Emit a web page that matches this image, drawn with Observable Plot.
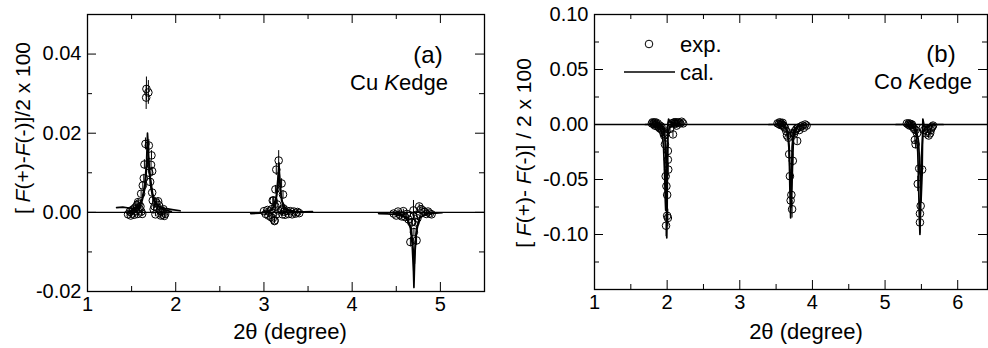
<!DOCTYPE html>
<html><head><meta charset="utf-8">
<script src="https://cdn.jsdelivr.net/npm/d3@7"></script>
<script src="https://cdn.jsdelivr.net/npm/@observablehq/plot@0.6"></script>
<style>
body{margin:0;background:#fff;}
#wrap{position:relative;width:988px;height:348px;overflow:hidden;font-family:"Liberation Sans",Arial,sans-serif;color:#000;background:#fff;}
.panel{position:absolute;top:0;}
.lbl{position:absolute;white-space:nowrap;font-size:20px;line-height:1;}
.rot{transform:translate(-50%,-50%) rotate(-90deg);}
.ctr{transform:translate(-50%,-50%);}
.lft{transform:translateY(-50%);}
</style></head><body><div id="wrap"></div>
<script>
// ---------- Panel (a): Cu K edge ----------
const aXTicks = [1, 2, 3, 4, 5];
const aXMinor = [1.5, 2.5, 3.5, 4.5];
const aYTicks = [-0.02, 0.00, 0.02, 0.04];
const aYMinor = [-0.01, 0.01, 0.03, 0.05];
const aExpX = [1.46,1.48,1.49,1.50,1.51,1.52,1.53,1.54,1.55,1.56,1.57,1.58,1.59,1.60,1.61,1.62,
  1.574,1.608,1.627,1.638,1.645,1.657,1.668,1.665,1.69,1.695,1.70,1.71,1.72,1.725,1.733,1.733,1.74,
  1.75,1.76,1.77,1.78,1.79,1.80,1.81,1.82,1.83,1.84,1.85,1.86,1.87,1.88,
  3.00,3.02,3.04,3.05,3.06,3.08,3.09,3.10,3.11,3.12,3.13,3.14,3.15,3.16,3.20,3.21,3.22,3.23,3.24,3.26,3.28,3.30,3.32,3.34,3.36,3.38,3.40,
  3.167,3.14,3.20,3.13,3.216,3.10,3.12,
  4.47,4.50,4.52,4.54,4.56,4.58,4.60,4.62,4.64,4.66,4.68,4.72,4.74,4.76,4.78,4.80,4.82,4.84,4.86,4.88,4.90,
  4.695,4.66,4.73,4.70,4.67,4.73];
const aExpY = [-0.0005,0.0002,-0.0008,0.0005,-0.0003,0.0008,-0.0006,0.0012,0.0003,0.0018,-0.0004,0.0022,0.0009,0.0015,0.0002,-0.0004,
  0.0026,0.0047,0.0068,0.0086,0.0121,0.0173,0.0312,0.0290,0.0303,0.0169,0.0100,0.0077,0.0120,0.0144,0.0104,0.0050,0.0030,
  0.0008,0.0015,-0.0005,0.0025,0.0012,0.0028,0.0018,0.0005,-0.0008,0.0002,-0.0006,0.0008,-0.0009,-0.0004,
  0.0003,-0.0004,0.0006,-0.0008,0.0002,-0.0012,0.0008,-0.0015,0.0030,-0.0022,0.0015,-0.0005,0.0020,0.0005,0.0005,-0.0005,0.0010,0.0002,-0.0006,0.0004,-0.0004,0.0003,-0.0005,0.0002,-0.0003,0.0001,-0.0002,
  0.0131,0.0108,0.0073,0.0058,0.0045,0.0030,-0.0020,
  -0.0003,-0.0008,0.0002,-0.0006,-0.0010,0.0003,-0.0012,-0.0004,-0.0018,-0.0008,-0.0025,-0.0025,-0.0015,0.0015,0.0008,0.0005,0.0001,-0.0004,0.0002,-0.0003,-0.0005,
  0.0005,-0.0075,-0.0071,-0.0050,-0.0025,-0.0006];
const aExpErr = [0.0006,0.0006,0.0006,0.0006,0.0006,0.0006,0.0006,0.0006,0.0006,0.0007,0.0006,0.0007,0.0006,0.0007,0.0006,0.0006,
  0.0008,0.0009,0.0010,0.0010,0.0012,0.0015,0.0030,0.0030,0.0030,0.0015,0.0012,0.0010,0.0012,0.0012,0.0010,0.0009,0.0008,
  0.0006,0.0006,0.0006,0.0007,0.0006,0.0007,0.0006,0.0006,0.0006,0.0006,0.0006,0.0006,0.0006,0.0006,
  0.0005,0.0005,0.0005,0.0005,0.0005,0.0005,0.0005,0.0006,0.0008,0.0006,0.0006,0.0006,0.0007,0.0006,0.0006,0.0005,0.0006,0.0005,0.0005,0.0005,0.0005,0.0005,0.0005,0.0005,0.0005,0.0005,0.0005,
  0.0025,0.0015,0.0012,0.0010,0.0010,0.0008,0.0008,
  0.0005,0.0005,0.0005,0.0005,0.0005,0.0005,0.0006,0.0005,0.0006,0.0005,0.0007,0.0007,0.0006,0.0006,0.0006,0.0005,0.0005,0.0005,0.0005,0.0005,0.0005,
  0.0025,0.0012,0.0012,0.0010,0.0008,0.0008];
const aCalX = [1.33,1.40,1.47,1.53,1.58,1.62,1.65,1.67,1.68,1.69,1.70,1.72,1.75,1.80,1.88,1.96,2.05,
  1.45,1.52,1.58,1.62,1.65,1.675,1.69,1.71,1.74,1.78,1.85,1.95,
  2.85,2.95,3.05,3.10,3.14,3.16,3.17,3.18,3.20,3.25,3.35,3.45,3.55,
  3.00,3.08,3.13,3.155,3.17,3.19,3.22,3.30,3.40,
  4.30,4.40,4.50,4.58,4.63,4.66,4.68,4.695,4.70,4.71,4.73,4.77,4.85,4.95,5.02,
  4.45,4.55,4.62,4.67,4.69,4.705,4.72,4.76,4.85];
const aCalY = [0.0012,0.0013,0.0011,0.0010,0.0015,0.0035,0.0070,0.0130,0.0200,0.0160,0.0110,0.0060,0.0030,0.0015,0.0010,0.0007,0.0004,
  0.0000,0.0005,0.0012,0.0030,0.0060,0.0125,0.0140,0.0090,0.0045,0.0020,0.0008,0.0002,
  -0.0003,-0.0002,0.0001,0.0010,0.0040,0.0090,0.0125,0.0080,0.0030,0.0008,0.0002,0.0001,0.0002,
  0.0000,0.0005,0.0020,0.0060,0.0105,0.0050,0.0010,0.0002,0.0000,
  -0.0003,-0.0004,-0.0006,-0.0010,-0.0020,-0.0040,-0.0080,-0.0150,-0.0190,-0.0110,-0.0040,-0.0012,-0.0004,-0.0002,-0.0001,
  0.0000,-0.0005,-0.0015,-0.0040,-0.0090,-0.0130,-0.0060,-0.0015,-0.0002];
const aCalId = [...Array(17).fill(0),...Array(12).fill(1),...Array(13).fill(2),...Array(9).fill(3),...Array(15).fill(4),...Array(9).fill(5)];

// ---------- Panel (b): Co K edge ----------
const bXTicks = [1, 2, 3, 4, 5, 6];
const bXMinor = [1.5, 2.5, 3.5, 4.5, 5.5];
const bYTicks = [-0.10, -0.05, 0.00, 0.05, 0.10];
const bYMinor = [-0.125, -0.075, -0.025, 0.025, 0.075];
const bExpX = [1.79,1.80,1.81,1.82,1.83,1.84,1.85,1.86,1.87,1.88,1.89,1.90,1.91,1.92,1.93,1.95,1.96,
  1.97,2.01,2.01,2.015,1.98,1.99,2.00,2.00,2.01,1.985,2.08,1.97,
  2.04,2.06,2.09,2.10,2.11,2.12,2.13,2.14,2.16,2.18,2.20,2.22,
  3.52,3.54,3.55,3.56,3.57,3.58,3.59,3.60,3.61,3.62,3.64,3.65,3.67,3.75,3.76,3.78,3.79,3.80,3.82,3.84,3.86,3.88,3.90,3.92,
  3.68,3.69,3.73,3.71,3.70,3.72,3.70,3.72,
  5.30,5.32,5.33,5.34,5.35,5.36,5.37,5.38,5.40,5.42,5.44,5.52,5.54,5.56,5.58,5.60,5.62,5.63,5.64,5.65,5.66,
  5.41,5.42,5.47,5.51,5.45,5.49,5.48,5.48];
const bExpY = [0.001,0.002,0.0005,0.0015,-0.001,0.002,0.0005,-0.0015,0.001,-0.002,-0.003,-0.001,-0.004,-0.002,-0.005,-0.008,-0.010,
  -0.018,-0.024,-0.032,-0.041,-0.047,-0.056,-0.064,-0.083,-0.085,-0.092,-0.009,-0.009,
  -0.004,0.001,0.0015,0.002,0.0005,0.002,-0.001,0.0015,0.002,0.001,0.0025,0.001,
  0.001,0.0005,0.002,-0.0005,0.001,0.0,0.0015,-0.001,-0.002,-0.003,-0.006,-0.010,-0.012,-0.008,-0.006,-0.004,-0.015,-0.003,-0.005,-0.002,-0.001,-0.003,0.0,-0.001,
  -0.027,-0.047,-0.033,-0.064,-0.069,-0.077,-0.010,-0.008,
  0.001,0.0,0.001,-0.001,0.0005,-0.0005,0.0,-0.002,-0.004,-0.005,-0.008,-0.003,-0.005,-0.008,-0.006,-0.010,-0.008,-0.005,-0.003,-0.002,-0.001,
  -0.014,-0.018,-0.040,-0.041,-0.054,-0.074,-0.081,-0.089];
const bExpErr = [0.002,0.002,0.002,0.002,0.002,0.002,0.002,0.002,0.002,0.002,0.002,0.002,0.002,0.002,0.003,0.003,0.003,
  0.004,0.005,0.005,0.006,0.006,0.007,0.007,0.008,0.008,0.010,0.003,0.003,
  0.003,0.002,0.002,0.002,0.002,0.002,0.002,0.002,0.002,0.002,0.002,0.002,
  0.002,0.002,0.002,0.002,0.002,0.002,0.002,0.002,0.002,0.002,0.003,0.003,0.003,0.003,0.003,0.002,0.003,0.002,0.002,0.002,0.002,0.002,0.002,0.002,
  0.005,0.006,0.005,0.007,0.007,0.008,0.003,0.003,
  0.002,0.002,0.002,0.002,0.002,0.002,0.002,0.002,0.002,0.003,0.003,0.002,0.002,0.003,0.002,0.003,0.003,0.002,0.002,0.002,0.002,
  0.004,0.004,0.006,0.006,0.007,0.008,0.009,0.010];
const bCalX = [1.70,1.78,1.85,1.90,1.93,1.95,1.965,1.975,1.98,1.99,2.00,2.01,2.03,2.08,2.15,2.25,
  1.85,1.92,1.96,1.98,1.99,1.995,2.00,2.005,2.01,2.02,2.04,2.10,2.20,
  3.40,3.50,3.58,3.63,3.66,3.68,3.69,3.70,3.71,3.72,3.74,3.78,3.85,3.95,
  3.55,3.62,3.66,3.68,3.695,3.71,3.725,3.74,3.80,3.90,
  5.15,5.25,5.35,5.40,5.43,5.45,5.46,5.47,5.48,5.49,5.50,5.52,5.56,5.65,5.80,
  5.35,5.42,5.46,5.48,5.495,5.51,5.52,5.54,5.60,5.70];
const bCalY = [0.0,0.0,-0.001,-0.003,-0.008,-0.020,-0.045,-0.070,-0.078,-0.060,-0.030,-0.010,-0.003,-0.001,0.0,0.0,
  0.0,-0.001,-0.005,-0.020,-0.060,-0.103,-0.080,-0.030,0.000,0.005,0.002,0.001,0.0,
  0.0,0.0,-0.001,-0.003,-0.008,-0.025,-0.060,-0.085,-0.060,-0.020,-0.006,-0.002,-0.0005,0.0,
  0.0,-0.002,-0.006,-0.020,-0.050,-0.075,-0.040,-0.010,-0.002,0.0,
  0.0,0.0,-0.001,-0.004,-0.010,-0.025,-0.050,-0.080,-0.100,-0.070,-0.030,-0.008,-0.002,0.0,0.0,
  0.0,-0.003,-0.015,-0.040,-0.070,-0.045,0.005,-0.002,-0.001,0.0];
const bCalId = [...Array(16).fill(0),...Array(13).fill(1),...Array(14).fill(2),...Array(10).fill(3),...Array(15).fill(4),...Array(10).fill(5)];

function panel({width, mL, mR, mT, mB, xDom, yDom, xT, xM, yT, yM, ex, ey, ee, cx, cy, cid}) {
  const fw = width - mL - mR, fh = 348 - mT - mB;
  const ei = d3.range(ex.length), ci = d3.range(cx.length);
  const K = 9, k = 5;
  return Plot.plot({
    width, height: 348, marginLeft: mL, marginRight: mR, marginTop: mT, marginBottom: mB,
    style: {fontFamily: '"Liberation Sans", Arial, sans-serif', fontSize: "20px", color: "#000", background: "transparent", overflow: "visible"},
    x: {domain: xDom, label: null},
    y: {domain: yDom, label: null},
    marks: [
      Plot.ruleY([0], {stroke: "#000", strokeWidth: 1.3}),
      Plot.ruleX(ei, {x: i => ex[i], y1: i => ey[i] - ee[i], y2: i => ey[i] + ee[i], stroke: "#000", strokeWidth: 1}),
      Plot.line(ci, {x: i => cx[i], y: i => cy[i], z: i => cid[i], stroke: "#000", strokeWidth: 1.7}),
      Plot.dot(ei, {x: i => ex[i], y: i => ey[i], r: 3.8, stroke: "#000", fill: "none", strokeWidth: 1}),
      Plot.tickX(xT, {x: d => d, insetTop: fh - K, stroke: "#000"}),
      Plot.tickX(xT, {x: d => d, insetBottom: fh - K, stroke: "#000"}),
      Plot.tickX(xM, {x: d => d, insetTop: fh - k, stroke: "#000"}),
      Plot.tickX(xM, {x: d => d, insetBottom: fh - k, stroke: "#000"}),
      Plot.tickY(yT, {y: d => d, insetRight: fw - K, stroke: "#000"}),
      Plot.tickY(yT, {y: d => d, insetLeft: fw - K, stroke: "#000"}),
      Plot.tickY(yM, {y: d => d, insetRight: fw - k, stroke: "#000"}),
      Plot.tickY(yM, {y: d => d, insetLeft: fw - k, stroke: "#000"}),
      Plot.axisX(xT, {tickSize: 0, tickPadding: 5, tickFormat: d => String(d), fill: "#000"}),
      Plot.axisY(yT, {tickSize: 0, tickPadding: 6, tickFormat: d => d.toFixed(2), fill: "#000"}),
      Plot.frame({stroke: "#000", strokeWidth: 1.3})
    ]
  });
}

const wrap = document.getElementById("wrap");
const pa = panel({width: 494, mL: 87, mR: 10, mT: 14, mB: 57, xDom: [1, 5.5], yDom: [-0.02, 0.05],
  xT: aXTicks, xM: aXMinor, yT: aYTicks, yM: aYMinor, ex: aExpX, ey: aExpY, ee: aExpErr, cx: aCalX, cy: aCalY, cid: aCalId});
pa.classList.add("panel"); pa.style.left = "0px";
wrap.appendChild(pa);
const pb = panel({width: 494, mL: 100, mR: 1, mT: 14, mB: 59, xDom: [1, 6.41], yDom: [-0.15, 0.10],
  xT: bXTicks, xM: bXMinor, yT: bYTicks, yM: bYMinor, ex: bExpX, ey: bExpY, ee: bExpErr, cx: bCalX, cy: bCalY, cid: bCalId});
pb.classList.add("panel"); pb.style.left = "494px";
wrap.appendChild(pb);

function lbl(html, x, y, cls, size) {
  const d = document.createElement("div");
  d.className = "lbl " + cls;
  d.style.left = x + "px"; d.style.top = y + "px";
  d.style.fontSize = size + "px";
  d.innerHTML = html;
  wrap.appendChild(d);
}
lbl("[ <i>F</i>(+)-<i>F</i>(-)]/2 x 100", 22, 128, "rot", 21);
lbl("2θ (degree)", 290, 332, "ctr", 22);
lbl("(a)", 428, 55, "ctr", 24);
lbl("Cu <i>K</i>edge", 399, 83, "ctr", 22);
lbl("[ <i>F</i>(+)- <i>F</i>(-)] / 2 x 100", 523, 153, "rot", 21);
lbl("2θ (degree)", 806, 332, "ctr", 22);
lbl("(b)", 941, 54, "ctr", 24);
lbl("Co <i>K</i>edge", 923, 82, "ctr", 22);
lbl("exp.", 680, 45, "lft", 22);
lbl("cal.", 680, 73, "lft", 22);
// legend symbols
const ls = d3.select(wrap).append("svg").attr("width", 988).attr("height", 348)
  .style("position", "absolute").style("left", 0).style("top", 0).style("pointer-events", "none");
ls.append("circle").attr("cx", 649).attr("cy", 44).attr("r", 3.8).attr("fill", "none").attr("stroke", "#000");
ls.append("line").attr("x1", 624).attr("x2", 675).attr("y1", 72).attr("y2", 72).attr("stroke", "#000").attr("stroke-width", 1.5);
</script>
</body></html>
